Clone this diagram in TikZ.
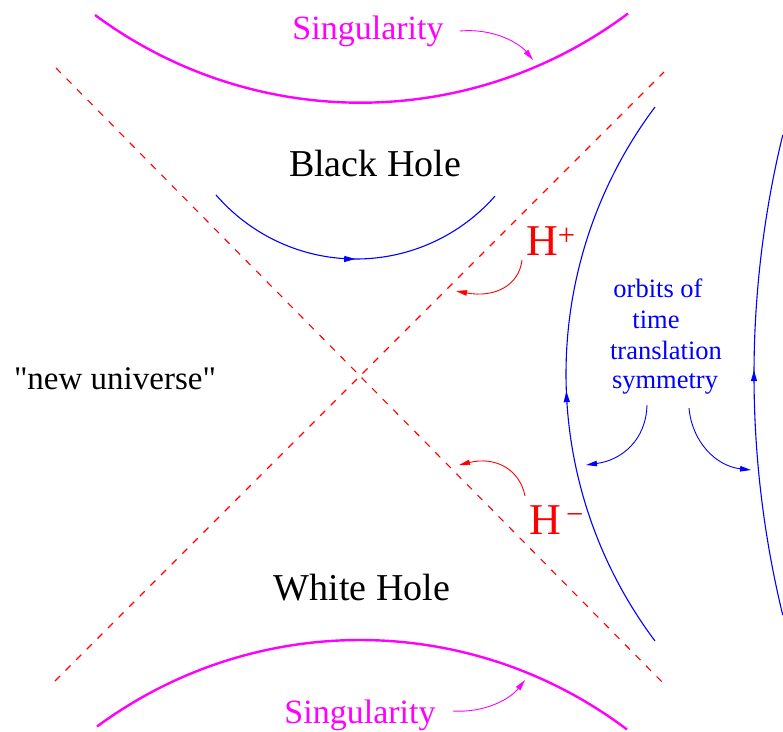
\documentclass[tikz,border=0pt]{standalone}
\usepackage{fontspec}
\setmainfont{Liberation Serif}
\newfontfamily\qfont{Liberation Serif}[Ligatures=TeXOff]
\usetikzlibrary{arrows.meta,decorations.markings}
\definecolor{mag}{RGB}{255,0,255}
\definecolor{bl}{RGB}{0,0,255}
\definecolor{rd}{RGB}{255,0,0}
\tikzset{
  sing/.style={mag,line width=2.4pt},
  horizon/.style={rd,line width=1.1pt,dash pattern=on 7pt off 8pt},
  orbit/.style={bl,line width=1.1pt},
  midarrow/.style={postaction={decorate},decoration={markings,mark=at position #1 with {\arrow{Triangle[length=11pt,width=6pt]}}}},
  smallarrow/.style={line width=0.9pt,-{Triangle[length=11pt,width=5.5pt]}},
  bigtext/.style={font=\fontsize{38}{40}\selectfont,anchor=base},
  singtext/.style={mag,font=\fontsize{34}{36}\selectfont,anchor=base},
  orbtext/.style={bl,font=\fontsize{26.5}{28}\selectfont,anchor=base},
  htext/.style={rd,font=\fontsize{44}{46}\selectfont,anchor=base west,inner sep=0pt}
}
\begin{document}
\begin{tikzpicture}[x=1pt,y=-1pt]
\useasboundingbox (0,0) rectangle (783,731);
% horizons
\coordinate (hA1) at (56,68);
\coordinate (hA2) at (665,685);
\coordinate (hB1) at (55,681);
\coordinate (hB2) at (664,72);
\draw[horizon] (hA1) -- (hA2);
\draw[horizon] (hB1) -- (hB2);
% singularities (circular arcs)
\draw[sing] plot[domain=-265.5:267.5,samples=90] ({360.5+\x},{-343+100*sqrt(4.457*4.457-(\x/100)*(\x/100))});
\draw[sing] plot[domain=-263:267,samples=90] ({360+\x},{1083-100*sqrt(4.43*4.43-(\x/100)*(\x/100))});
% black hole orbit
\draw[orbit,midarrow=0.5] plot[domain=-140:139,samples=70] ({356+\x},{74+100*sqrt(1.85*1.85-(\x/100)*(\x/100))});
% exterior orbits
\draw[orbit,midarrow=0.47] plot[domain=-267:267,samples=90] ({1011-100*sqrt(4.45*4.45-(\x/100)*(\x/100))},{374-\x});
\draw[orbit,midarrow=0.51] plot[domain=-240:240,samples=90] ({1771-100*sqrt(10.17*10.17-(\x/100)*(\x/100))},{375-\x});
% texts
\node[singtext] (sT) at (368,39) {Singularity};
\node[singtext] (sB) at (360,723) {Singularity};
\node[bigtext] (bh) at (375,176) {Black Hole};
\node[bigtext] (wh) at (362,600) {White Hole};
\node[font=\qfont\fontsize{33}{35}\selectfont,anchor=base] (nu) at (115,389) {"new universe"};
\node[htext] (hp) at (526,255) {H\textsuperscript{+}};
\node[htext] (hm) at (529,534) {H\textsuperscript{\,−}};
\node[orbtext] (o1) at (658,297) {orbits of};
\node[orbtext] (o2) at (656,328) {time};
\node[orbtext] (o3) at (666,359) {translation};
\node[orbtext] (o4) at (665,388) {symmetry};
% small arrows
\coordinate (aT1) at (460,31);
\coordinate (aT2) at (533,60);
\draw[mag,smallarrow] (aT1) .. controls (495,28) and (520,44) .. (aT2);
\coordinate (aB1) at (453,711);
\coordinate (aB2) at (525,680);
\draw[mag,smallarrow] (aB1) .. controls (485,713) and (510,699) .. (aB2);
\coordinate (rP1) at (522,260);
\coordinate (rP2) at (456,291);
\draw[rd,smallarrow] (rP1) .. controls (519,286) and (494,298) .. (rP2);
\coordinate (rM1) at (525,496);
\coordinate (rM2) at (459,465);
\draw[rd,smallarrow] (rM1) .. controls (520,470) and (496,456) .. (rM2);
\coordinate (bL1) at (647,405);
\coordinate (bL2) at (586,465);
\draw[bl,smallarrow] (bL1) .. controls (646,440) and (622,460) .. (bL2);
\coordinate (bR1) at (689,408);
\coordinate (bR2) at (751,470);
\draw[bl,smallarrow] (bR1) .. controls (692,442) and (716,466) .. (bR2);
\end{tikzpicture}
\end{document}
